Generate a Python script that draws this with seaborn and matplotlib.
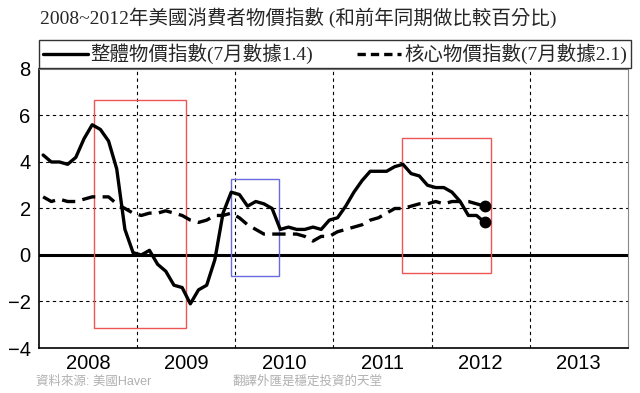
import numpy as np
import pandas as pd
import seaborn as sns
import matplotlib.pyplot as plt
from matplotlib.patches import Rectangle
from matplotlib.lines import Line2D

# monthly YoY %, Jan 2008 - Jul 2012
headline = [4.3, 4.0, 4.0, 3.9, 4.2, 5.0, 5.6, 5.4, 4.9, 3.7, 1.1, 0.1,
            0.0, 0.2, -0.4, -0.7, -1.3, -1.4, -2.1, -1.5, -1.3, -0.2, 1.8, 2.7,
            2.6, 2.1, 2.3, 2.2, 2.0, 1.1, 1.2, 1.1, 1.1, 1.2, 1.1, 1.5,
            1.6, 2.1, 2.7, 3.2, 3.6, 3.6, 3.6, 3.8, 3.9, 3.5, 3.4, 3.0,
            2.9, 2.9, 2.7, 2.3, 1.7, 1.7, 1.4]
core = [2.5, 2.3, 2.4, 2.3, 2.3, 2.4, 2.5, 2.5, 2.5, 2.2, 2.0, 1.8,
        1.7, 1.8, 1.8, 1.9, 1.8, 1.7, 1.5, 1.4, 1.5, 1.7, 1.7, 1.8,
        1.6, 1.3, 1.1, 0.9, 0.9, 0.9, 0.9, 0.9, 0.8, 0.6, 0.8, 0.8,
        1.0, 1.1, 1.2, 1.3, 1.5, 1.6, 1.8, 2.0, 2.0, 2.1, 2.2, 2.2,
        2.3, 2.2, 2.3, 2.3, 2.3, 2.2, 2.1]
years = [2008, 2009, 2010, 2011, 2012, 2013]
label_headline = "整體物價指數(7月數據1.4)"
label_core = "核心物價指數(7月數據2.1)"
title = "2008~2012年美國消費者物價指數 (和前年同期做比較百分比)"
source_note = "資料來源: 美國Haver"
site_note = "翻譯外匯是穩定投資的天堂"

# highlight boxes: (x0, x1, y0, y1, colour)
boxes = [(2008.56, 2009.50, -3.13, 6.67, "#ee5555"),
         (2009.96, 2010.45, -0.90, 3.25, "#6a6ae0"),
         (2011.70, 2012.61, -0.78, 5.01, "#ee5555")]

n = len(headline)
t = [2008 + (i + 0.5) / 12 for i in range(n)]
df = pd.DataFrame({"t": t, "headline": headline, "core": core})

sns.set_style("white")
serif_cjk = ["Liberation Serif", "Noto Sans CJK TC"]
plt.rcParams["font.family"] = ["Liberation Sans", "Noto Sans CJK TC"]

fig = plt.figure(figsize=(6.4, 3.93), dpi=100)
ax = fig.add_axes([0.061, 0.1145, 0.92, 0.71])

# grid
for yv in [-2, 2, 4, 6]:
    ax.axhline(yv, color="black", lw=0.8, ls=(0, (3, 3)), zorder=1)
for yr in years[1:]:
    ax.axvline(yr, color="black", lw=0.8, ls=(0, (3, 3)), zorder=1)
ax.axhline(0, color="black", lw=2.2, zorder=2)

for x0, x1, y0, y1, c in boxes:
    ax.add_patch(Rectangle((x0, y0), x1 - x0, y1 - y0, fill=False,
                           edgecolor=c, lw=1.0, zorder=3))

dash = (0, (4, 2.2))
sns.lineplot(data=df, x="t", y="headline", ax=ax, color="black", lw=2.4, zorder=4)
sns.lineplot(data=df, x="t", y="core", ax=ax, color="black", lw=2.4,
             linestyle=dash, zorder=4)
ax.plot(df["t"].iloc[-1], df["headline"].iloc[-1], "o", color="black", ms=7.5, zorder=5)
ax.plot(df["t"].iloc[-1], df["core"].iloc[-1], "o", color="black", ms=7.5, zorder=5)

ax.set_xlim(2008, 2014)
ax.set_ylim(-4, 8)
ax.set_yticks(range(-4, 9, 2))
ax.set_xticks(years[1:] + [2014])
ax.set_xticklabels([])
ax.set_xticks([y + 0.5 for y in years], minor=True)
ax.set_xticklabels([str(y) for y in years], minor=True)
ax.tick_params(axis="both", which="both", length=0, labelsize=14.5, colors="black")
ax.tick_params(axis="x", which="minor", pad=4)
ax.tick_params(axis="y", pad=6)
ax.set_xlabel("")
ax.set_ylabel("")
for s in ["left", "bottom"]:
    ax.spines[s].set_color("black")
    ax.spines[s].set_linewidth(1.2)
ax.spines["right"].set_color("#888888")
ax.spines["top"].set_color("#888888")

handles = [Line2D([], [], color="black", lw=2.4),
           Line2D([], [], color="black", lw=2.4, ls=(0, (2.5, 1.5)))]
leg = fig.legend(handles, [label_headline, label_core], ncol=2,
                 loc="lower left", bbox_to_anchor=(0.061, 0.826, 0.925, 0.078),
                 mode="expand", frameon=True, fancybox=False, borderaxespad=0,
                 handlelength=2.3, handletextpad=0.15, columnspacing=0.4,
                 borderpad=0.2, prop={"family": serif_cjk, "size": 14})
leg.get_frame().set_edgecolor("black")
leg.get_frame().set_linewidth(1.0)

fig.text(0.062, 0.955, title, fontsize=14, family=serif_cjk, va="center", ha="left")
fig.text(0.057, 0.03, source_note, fontsize=9, color="#b0b0b0", va="center")
fig.text(0.363, 0.03, site_note, fontsize=9, color="#b0b0b0", va="center")

fig.savefig("out.png", dpi=100)
